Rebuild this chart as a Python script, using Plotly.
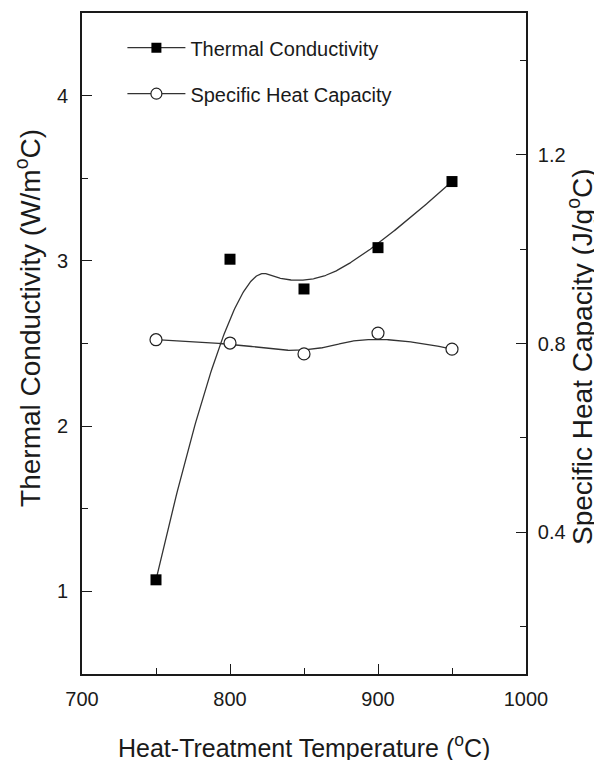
import numpy as np
import plotly.graph_objects as go

# --- data ---
temperature = [750, 800, 850, 900, 950]
thermal_conductivity = [1.07, 3.01, 2.83, 3.08, 3.48]
specific_heat = [0.808, 0.801, 0.778, 0.822, 0.788]


def bspline(xs, ys, n=300, k=2):
    """Clamped B-spline with the data points used as control points."""
    m = len(xs)
    knots = np.concatenate([np.zeros(k + 1), np.arange(1, m - k), np.full(k + 1, m - k)]).astype(float)
    u = np.linspace(0, m - k, n)
    u[-1] -= 1e-9

    def basis(i, p):
        if p == 0:
            return ((knots[i] <= u) & (u < knots[i + 1])).astype(float)
        out = np.zeros_like(u)
        d1 = knots[i + p] - knots[i]
        d2 = knots[i + p + 1] - knots[i + 1]
        if d1 > 0:
            out += (u - knots[i]) / d1 * basis(i, p - 1)
        if d2 > 0:
            out += (knots[i + p + 1] - u) / d2 * basis(i + 1, p - 1)
        return out

    B = np.array([basis(i, k) for i in range(m)])
    return B.T @ np.array(xs, float), B.T @ np.array(ys, float)


FONT = "Liberation Sans, Arial, sans-serif"
INK = "#1a1a1a"
LINE = dict(color="#333", width=1.3)

tc_x, tc_y = bspline(temperature, thermal_conductivity)
sh_x, sh_y = bspline(temperature, specific_heat)

fig = go.Figure()

# smooth curves
fig.add_trace(go.Scatter(x=tc_x, y=tc_y, mode="lines", line=LINE,
                         showlegend=False, hoverinfo="skip"))
fig.add_trace(go.Scatter(x=sh_x, y=sh_y, mode="lines", line=LINE,
                         showlegend=False, hoverinfo="skip", yaxis="y2"))

# markers
fig.add_trace(go.Scatter(x=temperature, y=thermal_conductivity, mode="markers", showlegend=False,
                         marker=dict(symbol="square", size=11, color="black")))
fig.add_trace(go.Scatter(x=temperature, y=specific_heat, mode="markers", showlegend=False, yaxis="y2",
                         marker=dict(symbol="circle", size=12, color="white",
                                     line=dict(color="#222", width=1.2))))

# legend entries
fig.add_trace(go.Scatter(x=[None], y=[None], mode="lines+markers", name="Thermal Conductivity",
                         legendgroup="a", line=LINE,
                         marker=dict(symbol="square", size=10, color="black")))
fig.add_trace(go.Scatter(x=[None], y=[None], mode="lines+markers", name="Specific Heat Capacity",
                         legendgroup="b", line=LINE,
                         marker=dict(symbol="circle", size=11, color="white",
                                     line=dict(color="#222", width=1.2))))

axis_common = dict(showgrid=False, zeroline=False, showline=True, linecolor=INK, linewidth=1.6,
                   ticks="inside", ticklen=10, tickwidth=1.4, tickcolor=INK,
                   tickfont=dict(family=FONT, size=20, color=INK))

# the page adds an 8px body margin; the figure is offset to line up with the window
fig.update_layout(
    width=594, height=752,
    margin=dict(l=73.5, r=76, t=4.5, b=86),
    paper_bgcolor="white", plot_bgcolor="white",
    font=dict(family=FONT, color=INK),
    xaxis=dict(axis_common, range=[700, 1000], dtick=100, mirror=True,
               minor=dict(ticks="inside", ticklen=6, dtick=50, tickcolor=INK, tickwidth=1.4),
               ticklabelstandoff=6),
    yaxis=dict(axis_common, range=[0.5, 4.5], dtick=1, mirror=True,
               minor=dict(ticks="inside", ticklen=6, dtick=0.5, tickcolor=INK, tickwidth=1.4),
               ticklabelstandoff=8),
    yaxis2=dict(axis_common, range=[0.1, 1.5], dtick=0.4, tick0=0.4, overlaying="y", side="right",
                minor=dict(ticks="inside", ticklen=6, dtick=0.2, tick0=0.2, tickcolor=INK, tickwidth=1.4),
                ticklabelstandoff=6, tickformat=".1f"),
    legend=dict(x=0.091, y=0.977, xanchor="left", yanchor="top", bgcolor="rgba(0,0,0,0)",
                font=dict(family=FONT, size=20, color=INK), itemwidth=58, tracegroupgap=17),
)

# axis titles placed by hand, as in the original figure
title_font = dict(family=FONT, size=28, color=INK)
fig.add_annotation(text="Heat-Treatment Temperature (<sup>o</sup>C)", xref="paper", yref="paper",
                   x=0.5, y=-0.109, xanchor="center", yanchor="middle", showarrow=False,
                   font=dict(family=FONT, size=25, color=INK))
fig.add_annotation(text="Thermal Conductivity (W/m<sup>o</sup>C)", xref="paper", yref="paper",
                   x=-0.1204, y=0.538, xanchor="center", yanchor="middle", textangle=-90,
                   showarrow=False, font=title_font)
fig.add_annotation(text="Specific Heat Capacity (J/g<sup>o</sup>C)", xref="paper", yref="paper",
                   x=1.1215, y=0.481, xanchor="center", yanchor="middle", textangle=-90,
                   showarrow=False, font=title_font)

fig.write_html("out.html")
